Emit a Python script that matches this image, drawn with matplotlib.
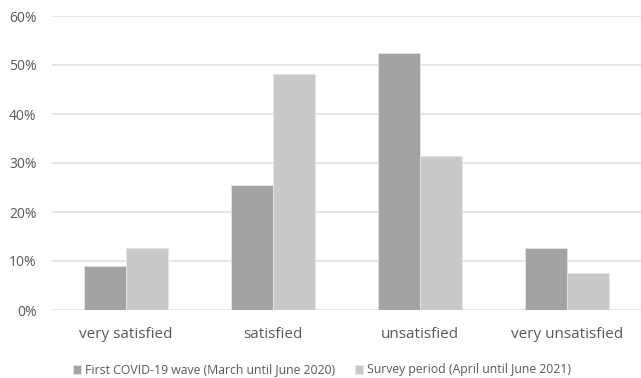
import matplotlib
matplotlib.use("Agg")
import matplotlib.pyplot as plt
import numpy as np
from matplotlib import font_manager

categories = ["very satisfied", "satisfied", "unsatisfied", "very unsatisfied"]
first_wave = [9.0, 25.5, 52.5, 12.7]
survey_period = [12.7, 48.1, 31.5, 7.6]
series_labels = ["First COVID-19 wave (March until June 2020)",
                 "Survey period (April until June 2021)"]
yticks = [0, 10, 20, 30, 40, 50, 60]

names = {f.name for f in font_manager.fontManager.ttflist}
fam = ["Liberation Sans Narrow"] if "Liberation Sans Narrow" in names else ["Open Sans", "DejaVu Sans"]
plt.rcParams["font.family"] = fam + ["DejaVu Sans"]

text_color = "#595959"
dark = "#a3a3a3"
light = "#c9c9c9"

fig = plt.figure(figsize=(6.41, 3.78), dpi=100)
ax = fig.add_axes([52 / 641, 1 - 310 / 378, 589 / 641, 294 / 378])

x = np.arange(len(categories))
w = 0.286
ax.bar(x - w / 2, first_wave, width=w, color=dark, edgecolor="#e6e6e6", linewidth=0.6,
       label=series_labels[0], zorder=3)
ax.bar(x + w / 2, survey_period, width=w, color=light, edgecolor="#e6e6e6", linewidth=0.6,
       label=series_labels[1], zorder=3)

ax.set_xlim(-0.5, len(categories) - 0.5)
ax.set_ylim(0, 60)
ax.set_yticks(yticks)
ax.set_yticklabels([f"{v}%" for v in yticks])
ax.set_xticks(x)
ax.set_xticklabels(categories)
ax.tick_params(axis="y", length=0, pad=11, labelsize=10, labelcolor=text_color)
ax.tick_params(axis="x", length=0, pad=12, labelsize=11, labelcolor=text_color)
ax.grid(axis="y", color="#e0e0e0", linewidth=1.2, zorder=0)
for s in ax.spines.values():
    s.set_visible(False)

leg = fig.legend(loc="center", bbox_to_anchor=(322 / 641, 1 - 370 / 378), ncol=2, frameon=False,
                 fontsize=8.8, handlelength=0.7, handleheight=0.7, handletextpad=0.3,
                 columnspacing=1.6, labelcolor=text_color)

fig.savefig("out.png", dpi=100)
